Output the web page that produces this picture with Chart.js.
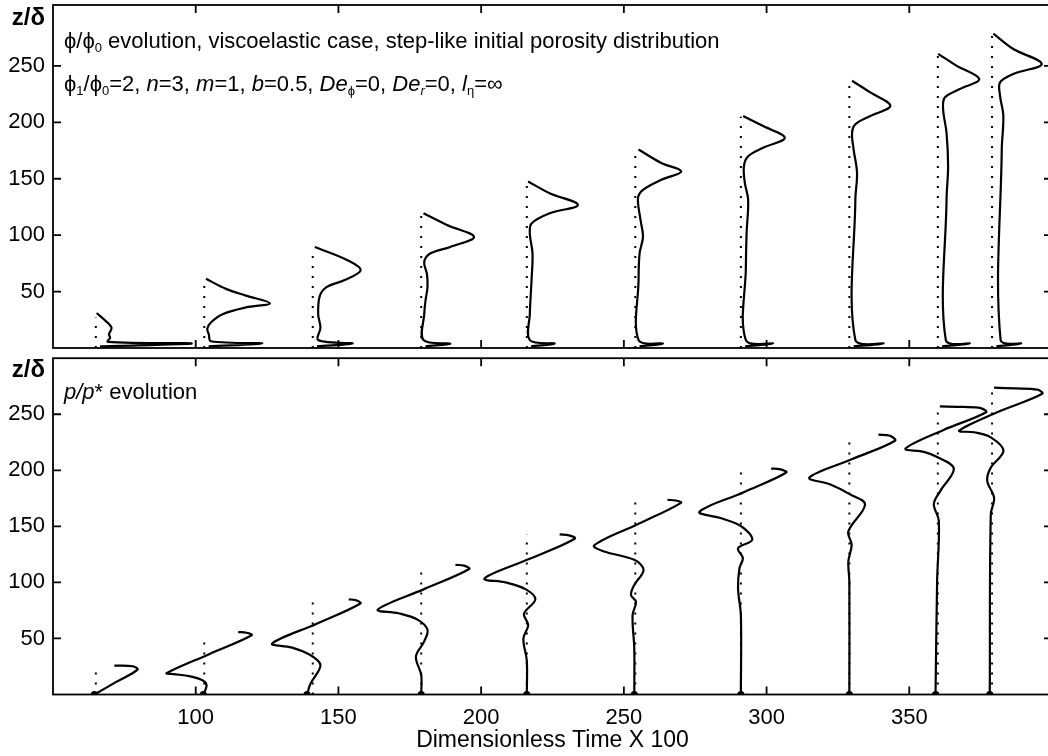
<!DOCTYPE html>
<html>
<head>
<meta charset="utf-8">
<script src="https://cdn.jsdelivr.net/npm/chart.js@4.4.1/dist/chart.umd.min.js"></script>
<style>
  html, body { margin: 0; padding: 0; background: #fff; overflow: hidden; }
  #wrap { position: relative; width: 1048px; height: 756px; overflow: hidden; background: #fff; }
  canvas { position: absolute; left: 0; }
  #phiChart { top: 0; }
  #pChart { top: 352px; }
</style>
</head>
<body>
<div id="wrap">
  <canvas id="phiChart" width="1060" height="352"></canvas>
  <canvas id="pChart" width="1060" height="404"></canvas>
</div>
<script>
/* snapshot times (dimensionless time x 100), one profile each */
const times = [65, 103, 141, 179, 216, 254, 291, 329, 360, 379];

/* height z/delta reached by the dotted reference line of each snapshot */
const phiFront = [27, 58, 88, 118, 146, 175, 205, 236, 260, 279];
const pFront   = [22, 51, 82, 113, 143, 174, 202, 228, 254, 271];

/* phi/phi0 profiles: offset from the snapshot time, and height z/delta */
const phiDx = [
  [1.5, 33.6, 4.2, 5, 4.6, 5.5, 3, 0.3],
  [1.5, 20.3, 2.3, 1.6, 1.05, 2.3, 6.4, 14.6, 23, 14.6, 7.6, 0.6],
  [1.5, 14, 1.9, 2.7, 1.9, 2.45, 4.8, 11, 16.8, 12, 0.7],
  [1.5, 10.2, 0.8, 1.05, 1.5, 2.2, 2, 1.05, 3.15, 10.2, 18.5, 9, 0.8],
  [1.5, 9.8, 1.05, 1.05, 1.65, 2, 1.05, 1.65, 8, 17.9, 8, 0.45],
  [1.5, 9.7, 1.15, 1.15, 1.5, 2.7, 1.85, 0.95, 2.7, 9.1, 16.1, 9.1, 1.15],
  [1.5, 11.3, 1.75, 1.75, 2, 2.55, 1.4, 1.05, 2.55, 7.8, 15.4, 7.8, 0.8],
  [1.5, 12, 2.1, 2.1, 2.7, 1.5, 0.95, 2.1, 7.35, 14.35, 7.35, 0.95],
  [1.5, 11.2, 2.8, 3.05, 3.6, 3.05, 1.85, 2.45, 7.7, 14.5, 6.5, 0.1],
  [1.5, 10.2, 3, 3.4, 3.95, 2.8, 2.8, 7.45, 17.4, 7.45, 0.45]
];
const phiZ = [
  [1.5, 4, 5.5, 9, 12, 18, 25, 31],
  [1.5, 4, 6, 12, 17, 22.6, 30, 36, 39.6, 46.4, 52.4, 61.3],
  [1.5, 4, 7, 18, 30, 46, 54, 60, 69, 78, 89.5],
  [1.5, 4, 7, 30, 42, 53.8, 65.8, 76.2, 83.7, 89.6, 98.5, 109, 119.4],
  [1.5, 4, 7, 30, 59.8, 83.7, 101.5, 110.4, 119.4, 126.8, 137.2, 147.6],
  [1.5, 4, 7, 59.8, 83.7, 98.5, 113.4, 132.8, 140.2, 149.1, 156.5, 164, 175.9],
  [1.5, 4, 7, 71.7, 101.5, 131.2, 146.2, 161, 169.9, 177.4, 186.3, 196.7, 205.6],
  [1.5, 4, 7, 131.2, 155.1, 175.9, 190.8, 198.2, 205.6, 214.6, 226.5, 236.9],
  [1.5, 4, 7, 131.2, 161, 190.8, 211.6, 222, 229.5, 238.4, 250.3, 260.7],
  [1.5, 4, 7, 175.9, 205.6, 223.5, 235.4, 242.9, 251.8, 265, 278.6]
];

/* p/p* profiles: offset from the snapshot time, and height z/delta */
const pDx = [
  [-0.5, 7, 14.6, 12.9, 6.5],
  [-0.35, 0.8, -0.35, -4.9, -10.8, -13.2, 1.7, 16.6, 14.8, 11.9],
  [-2, -0.8, 2.7, -0.8, -7.5, -14.2, 1.2, 16.7, 14.9, 12.6],
  [0, 0, -1.85, 1.05, 2.2, -1.3, -8, -15.2, 1, 16.8, 15, 12],
  [0, 0, -1.2, 0.5, -1, 3, -0.5, -7.5, -14.8, 1, 16.8, 14.8, 11.5],
  [-0.35, -0.35, -0.95, 0.25, -1.5, -0.35, 2.9, -0.35, -10.9, -14.4, 1, 16, 14.2, 11.3],
  [0, 0, -1, -0.5, 0.7, -1, 4, 0.1, -7.5, -14.5, 1, 15.9, 13.5, 10.6],
  [0, 0, -0.35, 0.8, -0.35, 5.5, 0.25, -6.8, -14, 1, 16, 14.2, 10.2],
  [-0.8, -0.25, 0.35, -1.4, 0.95, 5.6, -0.25, -4.9, -11.3, 2, 16.9, 15, 9, 0.7],
  [-0.8, -0.45, 0.7, -1.7, -0.45, 4, -0.45, -6.3, -11.5, 2, 17.6, 15.9, 8, 0.7]
];
const pZ = [
  [0, 11, 22.2, 25.2, 25.8],
  [0, 7.8, 12.3, 16.2, 18.2, 19, 36, 52.8, 55.1, 55.7],
  [0, 9.6, 26.1, 35.1, 42, 45.5, 63, 81.2, 84.3, 84.8],
  [0, 17.4, 33.8, 47.4, 57.8, 66.8, 72.5, 75.8, 94, 112, 115, 115.6],
  [0, 30, 50, 62, 72, 85, 94, 100, 103.5, 121, 139, 142, 142.8],
  [0, 40.7, 70.7, 82.7, 88.7, 97.7, 111.1, 120.1, 127.6, 133, 152, 171, 173.1, 173.6],
  [0, 70.7, 94.6, 112.6, 121.6, 130.5, 138.1, 150.1, 157.6, 163, 180.5, 198, 201, 201.5],
  [0, 101, 118.6, 133.6, 145.5, 169.5, 178.5, 187.5, 193.5, 210, 226.4, 230.9, 231.8],
  [0, 101, 154.9, 169.9, 181.9, 201.4, 211.9, 216.4, 219.4, 236, 251.8, 255.5, 256.5, 257],
  [0, 160.5, 175.5, 190.5, 202.4, 217.4, 229.4, 233.9, 235.4, 252, 268.3, 271.9, 273, 273.7]
];

const xTicks = [100, 150, 200, 250, 300, 350];
const yTicks = [50, 100, 150, 200, 250];

const FONT = "'Liberation Sans', Arial, Helvetica, sans-serif";
Chart.defaults.font.family = FONT;
Chart.defaults.color = '#000';

/* annotation lines: [text, style] with i = italic, s = subscript */
const phiNote = [
  { y: 42, segs: [['ϕ/ϕ'], ['0', 's'], [' evolution, viscoelastic case, step-like initial porosity distribution']] },
  { y: 85, segs: [['ϕ'], ['1', 's'], ['/ϕ'], ['0', 's'], ['=2, '], ['n', 'i'], ['=3, '], ['m', 'i'], ['=1, '],
                  ['b', 'i'], ['=0.5, '], ['De', 'i'], ['ϕ', 's'], ['=0, '], ['De', 'i'], ['r', 'si'], ['=0, '],
                  ['l', 'i'], ['η', 's'], ['=∞']] }
];
const pNote = [
  { y: 41, segs: [['p/p', 'i'], ['* evolution']] }
];

function drawRich(ctx, x, y, segs, size) {
  ctx.textAlign = 'left';
  ctx.textBaseline = 'middle';
  segs.forEach(([txt, st]) => {
    const it = !!st && st.includes('i');
    const sub = !!st && st.includes('s');
    const fs = sub ? Math.round(size * 0.6) : size;
    ctx.font = (it ? 'italic ' : '') + fs + 'px ' + FONT;
    ctx.fillText(txt, x, sub ? y + size * 0.3 : y);
    x += ctx.measureText(txt).width;
  });
}

/* boxed axes with inward ticks (matlab look) + labels */
function makeFrame(notes) {
  return {
    id: 'frame',
    afterDraw(chart) {
      const { ctx, chartArea: a, scales: { x, y } } = chart;
      const L = 8;
      ctx.save();
      ctx.strokeStyle = '#000';
      ctx.lineWidth = 1.8;
      ctx.strokeRect(a.left, a.top, a.right - a.left, a.bottom - a.top);
      ctx.beginPath();
      xTicks.forEach(v => {
        const px = x.getPixelForValue(v);
        ctx.moveTo(px, a.bottom); ctx.lineTo(px, a.bottom - L);
        ctx.moveTo(px, a.top);    ctx.lineTo(px, a.top + L);
      });
      yTicks.forEach(v => {
        const py = y.getPixelForValue(v);
        ctx.moveTo(a.left, py);  ctx.lineTo(a.left + L, py);
        ctx.moveTo(a.right, py); ctx.lineTo(a.right - L, py);
      });
      ctx.stroke();

      ctx.fillStyle = '#000';
      ctx.font = 'bold 24px ' + FONT;
      ctx.textAlign = 'right';
      ctx.textBaseline = 'middle';
      ctx.fillText('z/δ', a.left - 8, 18);
      notes.forEach(n => drawRich(ctx, a.left + 11, n.y, n.segs, 22));
      ctx.restore();
    }
  };
}

function buildSets(dxs, zs, front, baseDot) {
  const sets = [];
  times.forEach((t, i) => {
    sets.push({
      data: [{ x: t, y: 0 }, { x: t, y: front[i] }],
      showLine: true,
      borderColor: '#000',
      borderWidth: 2,
      borderDash: [2, 8],
      pointRadius: 0,
      tension: 0
    });
    sets.push({
      data: dxs[i].map((d, k) => ({ x: t + d, y: zs[i][k] })),
      showLine: true,
      borderColor: '#000',
      backgroundColor: '#000',
      borderWidth: 2.2,
      pointRadius: baseDot ? (c => c.dataIndex === 0 ? 2.5 : 0) : 0,
      tension: 0.35
    });
  });
  return sets;
}

function makeChart(id, sets, yMax, showX, notes) {
  return new Chart(document.getElementById(id), {
    type: 'scatter',
    data: { datasets: sets },
    options: {
      responsive: false,
      animation: false,
      events: [],
      layout: { padding: { top: showX ? 4 : 5, right: 8, left: 0, bottom: 0 } },
      plugins: { legend: { display: false }, tooltip: { enabled: false } },
      scales: {
        x: {
          type: 'linear', min: 50, max: 400,
          grid: { display: false, drawTicks: false },
          border: { display: false },
          afterBuildTicks: s => { s.ticks = xTicks.map(v => ({ value: v })); },
          afterFit: s => { s.height = showX ? 61.5 : 4; s.paddingLeft = 0; s.paddingRight = 0; },
          ticks: { display: showX, autoSkip: false, maxRotation: 0, padding: 10, font: { size: 22 } },
          title: {
            display: showX, text: 'Dimensionless Time X 100',
            font: { size: 23 }, padding: { top: 0, bottom: 2 }
          }
        },
        y: {
          min: 0, max: yMax,
          grid: { display: false, drawTicks: false },
          border: { display: false },
          afterBuildTicks: s => { s.ticks = yTicks.map(v => ({ value: v })); },
          afterFit: s => { s.width = 53; s.paddingTop = 0; s.paddingBottom = 0; },
          ticks: { padding: 8, font: { size: 22 } }
        }
      }
    },
    plugins: [makeFrame(notes)]
  });
}

makeChart('phiChart', buildSets(phiDx, phiZ, phiFront, false), 304, false, phiNote);
makeChart('pChart', buildSets(pDx, pZ, pFront, true), 300, true, pNote);
</script>
</body>
</html>
